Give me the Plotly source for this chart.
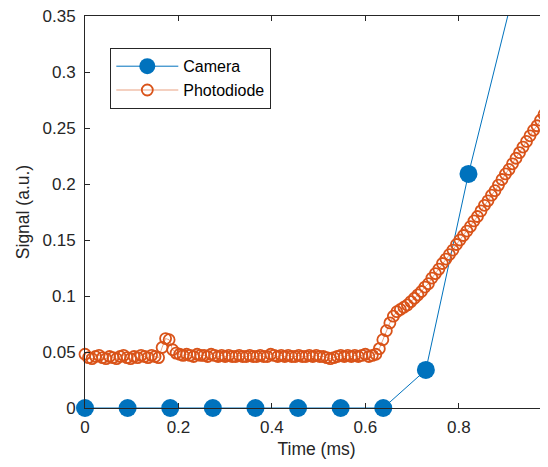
import numpy as np
import plotly.graph_objects as go

# ---- data ----
CAM_TIME = [0.0, 0.0912, 0.1824, 0.2736, 0.3648, 0.4560, 0.5472, 0.6384, 0.7296, 0.8208, 0.9120]
CAM_SIGNAL = [0.0, 0.0, 0.0, 0.0, 0.0, 0.0, 0.0, 0.0, 0.034, 0.209, 0.362]

PD_DT = 0.0075  # sampling interval (ms)
PD_SIGNAL = [
    0.048, 0.045, 0.044, 0.046, 0.047, 0.045, 0.044, 0.046, 0.045, 0.044,
    0.046, 0.047, 0.045, 0.044, 0.046, 0.045, 0.047, 0.046, 0.045, 0.047,
    0.046, 0.045, 0.054, 0.062, 0.061, 0.052, 0.049, 0.048,
    0.047, 0.048, 0.047, 0.046, 0.048, 0.047, 0.047, 0.046, 0.048, 0.047,
    0.046, 0.047, 0.046, 0.047, 0.046, 0.046, 0.047, 0.046, 0.046, 0.047,
    0.046, 0.046, 0.047, 0.046, 0.046, 0.048, 0.047, 0.046, 0.047, 0.046,
    0.047, 0.046, 0.046, 0.047, 0.046, 0.046, 0.047, 0.046, 0.047, 0.046,
    0.046, 0.045, 0.044, 0.045, 0.046, 0.047, 0.046, 0.047, 0.046, 0.047,
    0.046, 0.047, 0.048, 0.046, 0.047,
    0.048, 0.053, 0.061, 0.069, 0.076, 0.082, 0.086, 0.088, 0.090, 0.092,
    0.095, 0.098, 0.101, 0.104, 0.108, 0.111, 0.116, 0.120, 0.124, 0.129,
    0.133, 0.137, 0.141, 0.146, 0.150, 0.154, 0.158, 0.162, 0.167, 0.171,
    0.176, 0.181, 0.185, 0.190, 0.194, 0.199, 0.204, 0.209, 0.213, 0.218,
    0.223, 0.228, 0.233, 0.238, 0.243, 0.248, 0.252, 0.257, 0.262, 0.266,
]
PD_TIME = [i * PD_DT for i in range(len(PD_SIGNAL))]

X_TICKS = [0, 0.2, 0.4, 0.6, 0.8, 1.0]
X_TICK_LABELS = ["0", "0.2", "0.4", "0.6", "0.8", "1"]
Y_TICKS = [0, 0.05, 0.1, 0.15, 0.2, 0.25, 0.3, 0.35]
Y_TICK_LABELS = ["0", "0.05", "0.1", "0.15", "0.2", "0.25", "0.3", "0.35"]

# ---- style ----
PAGE_OFFSET = 8  # default page body margin
W, H = 548 - PAGE_OFFSET, 467 - PAGE_OFFSET
ML, MT, MB, MR = 85 - PAGE_OFFSET, 16 - PAGE_OFFSET, 59, 0
X_MAX = 0.991
Y_MAX = 0.35
BLUE = "#0072BD"
ORANGE = "#D95319"
AX = "#262626"
FONT = "Liberation Sans, Arial, Helvetica, sans-serif"

cam_sizes = [18 if (v <= Y_MAX and t <= X_MAX) else 0 for t, v in zip(CAM_TIME, CAM_SIGNAL)]

fig = go.Figure()
fig.add_trace(go.Scatter(
    x=CAM_TIME, y=CAM_SIGNAL, name="Camera", mode="lines+markers",
    line=dict(color=BLUE, width=1),
    marker=dict(color=BLUE, size=cam_sizes, symbol="circle", opacity=1, line=dict(width=0)),
    cliponaxis=False,
))
pd_x = [t for t in PD_TIME if t <= X_MAX]
pd_y = PD_SIGNAL[:len(pd_x)]
fig.add_trace(go.Scatter(
    x=pd_x, y=pd_y, name="Photodiode", mode="lines+markers",
    line=dict(color="rgba(217,83,25,0.55)", width=1),
    marker=dict(color=ORANGE, size=11, symbol="circle-open", opacity=1,
                line=dict(color=ORANGE, width=1.8)),
    cliponaxis=False,
))

axis_common = dict(
    showgrid=False, zeroline=False, showline=True, linecolor=AX, linewidth=1,
    mirror="ticks", ticks="inside", ticklen=5, tickcolor=AX, tickwidth=1,
    tickfont=dict(family=FONT, size=17, color=AX), automargin=False,
    ticklabeloverflow="allow",
)
fig.update_xaxes(
    range=[0, X_MAX], tickvals=X_TICKS, ticktext=X_TICK_LABELS,
    title=dict(text="Time (ms)", font=dict(family=FONT, size=17.5, color=AX), standoff=6),
    ticklabelstandoff=4, **axis_common,
)
fig.update_yaxes(
    range=[0, Y_MAX], tickvals=Y_TICKS, ticktext=Y_TICK_LABELS,
    title=dict(text="Signal (a.u.)", font=dict(family=FONT, size=17.5, color=AX), standoff=8),
    ticklabelstandoff=5, **axis_common,
)
fig.update_layout(
    width=W, height=H, margin=dict(l=ML, r=MR, t=MT, b=MB, autoexpand=False),
    paper_bgcolor="white", plot_bgcolor="white",
    font=dict(family=FONT, color=AX),
    showlegend=True,
    legend=dict(
        x=(110 - 85) / (W - ML - MR), y=(H - MB - (48 - PAGE_OFFSET)) / (H - MT - MB),
        xanchor="left", yanchor="top",
        bgcolor="white", bordercolor=AX, borderwidth=1.3,
        font=dict(family=FONT, size=16, color="#000000"),
        itemwidth=62, tracegroupgap=0,
    ),
)

fig.write_html("out.html")
